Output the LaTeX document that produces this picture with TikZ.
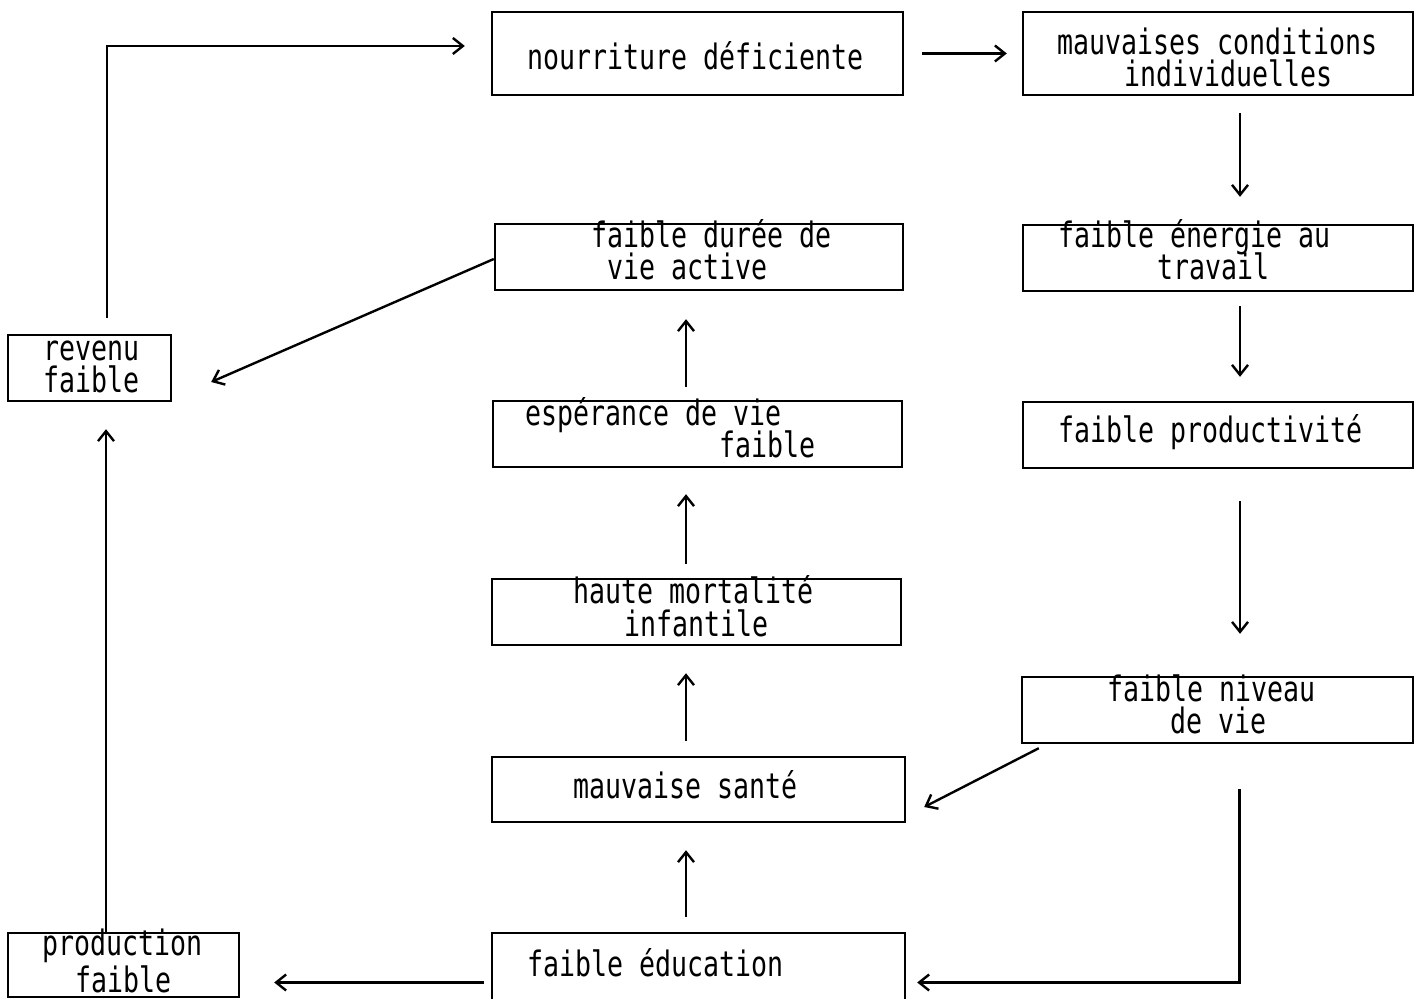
\documentclass[tikz,border=0pt]{standalone}
\usepackage{fontspec}
\newfontfamily\typewr[FakeStretch=0.76]{DejaVu Sans Mono}
\usetikzlibrary{arrows.meta}

\begin{document}
\begin{tikzpicture}
        [x=0.5pt, y=-0.5pt,
          box/.style={
            rectangle,
            draw,
            line width=1.2pt},
          txt/.style={
            anchor=base west,
            inner sep=0pt,
            text depth=1pt,
            font=\typewr\fontsize{17.5pt}{16pt}\selectfont},
          link/.style={
            line width=1.2pt,
            -{Straight Barb[length=5pt,width=8pt,line width=1.2pt]}}]
        \useasboundingbox (0,0) rectangle (1422,999);

        % boxes
        \node[box, minimum width=205.5pt, minimum height=41.5pt] (nour) at (697.5,53.5) {};
        \node[box, minimum width=195pt, minimum height=41.5pt] (mauv) at (1218,53.5) {};
        \node[box, minimum width=204pt, minimum height=33pt] (duree) at (699,257) {};
        \node[box, minimum width=195pt, minimum height=33pt] (energ) at (1218,258) {};
        \node[box, minimum width=81.5pt, minimum height=33pt] (rev) at (89.5,368) {};
        \node[box, minimum width=204.5pt, minimum height=33pt] (esper) at (697.5,434) {};
        \node[box, minimum width=195pt, minimum height=33pt] (prod) at (1218,435) {};
        \node[box, minimum width=204.5pt, minimum height=33pt] (mort) at (696.5,612) {};
        \node[box, minimum width=195.5pt, minimum height=33pt] (niveau) at (1217.5,710) {};
        \node[box, minimum width=206.5pt, minimum height=32.5pt] (sante) at (698.5,789.5) {};
        \node[box, minimum width=115.5pt, minimum height=32pt] (prodf) at (123.5,965) {};
        \node[box, minimum width=206.5pt, minimum height=33.5pt] (educ) at (698.5,966.5) {};

        % texts
        \node[txt] (nourT) at (527,70) {nourriture déficiente};
        \node[txt] (mauvT1) at (1057,55) {mauvaises conditions};
        \node[txt] (mauvT2) at (1124,87) {individuelles};
        \node[txt] (dureeT1) at (591,248) {faible durée de};
        \node[txt] (dureeT2) at (607,280) {vie active};
        \node[txt] (energT1) at (1058,248) {faible énergie au};
        \node[txt] (energT2) at (1157,280) {travail};
        \node[txt] (revT1) at (43,361) {revenu};
        \node[txt] (revT2) at (43,393) {faible};
        \node[txt] (esperT1) at (525,426) {espérance de vie};
        \node[txt] (esperT2) at (719,458) {faible};
        \node[txt] (prodT) at (1058,443) {faible productivité};
        \node[txt] (mortT1) at (573,603) {haute mortalité};
        \node[txt] (mortT2) at (624,636) {infantile};
        \node[txt] (niveauT1) at (1107,701) {faible niveau};
        \node[txt] (niveauT2) at (1170,733) {de vie};
        \node[txt] (santeT) at (573,798) {mauvaise santé};
        \node[txt] (prodfT1) at (42,955) {production};
        \node[txt] (prodfT2) at (75,992) {faible};
        \node[txt] (educT) at (527,976) {faible éducation};

        % right column, going down
        \draw[link, shorten <=9pt, shorten >=7.5pt] (nour) -- (mauv);
        \draw[link, shorten <=8.5pt, shorten >=13.5pt] ([xshift=11pt]mauv.south) -- ([xshift=11pt]mauv.south |- energ.north);
        \draw[link, shorten <=7pt, shorten >=12pt] ([xshift=11pt]energ.south) -- ([xshift=11pt]energ.south |- prod.north);
        \draw[link, shorten <=16pt, shorten >=21pt] ([xshift=11pt]prod.south) -- ([xshift=11pt]prod.south |- niveau.north);
        \draw[link, shorten <=22.5pt, shorten >=5.5pt] ([xshift=11pt]niveau.south) |- ([yshift=-8pt]educ.east);
        \draw[link] ([xshift=9pt,yshift=-2pt]niveau.south west) -- ([xshift=9pt,yshift=-8.75pt]sante.east);

        % middle column, going up
        \draw[link, shorten <=7.5pt, shorten >=13.5pt] ([xshift=-6.25pt]educ.north) -- ([xshift=-6.25pt]educ.north |- sante.south);
        \draw[link, shorten <=7.5pt, shorten >=13.5pt] ([xshift=-6.25pt]sante.north) -- ([xshift=-6.25pt]sante.north |- mort.south);
        \draw[link, shorten <=7pt, shorten >=13pt] ([xshift=-5.25pt]mort.north) -- ([xshift=-5.25pt]mort.north |- esper.south);
        \draw[link, shorten <=6.5pt, shorten >=14pt] ([xshift=-5.75pt]esper.north) -- ([xshift=-5.75pt]esper.north |- duree.south);
        \draw[link] ([yshift=-1pt]duree.west) -- ([xshift=19.5pt,yshift=-7pt]rev.east);

        % left column
        \draw[link, shorten <=3.5pt, shorten >=17pt] ([yshift=-8pt]educ.west) -- ([yshift=-8pt]educ.west -| prodf.east);
        \draw[link, shorten >=13.5pt] ([xshift=-8.75pt]prodf.north) -- ([xshift=-8.75pt]prodf.north |- rev.south);
        \draw[link, shorten <=8pt, shorten >=13pt] ([xshift=8.75pt]rev.north) |- ([yshift=3.75pt]nour.west);
\end{tikzpicture}
\end{document}
